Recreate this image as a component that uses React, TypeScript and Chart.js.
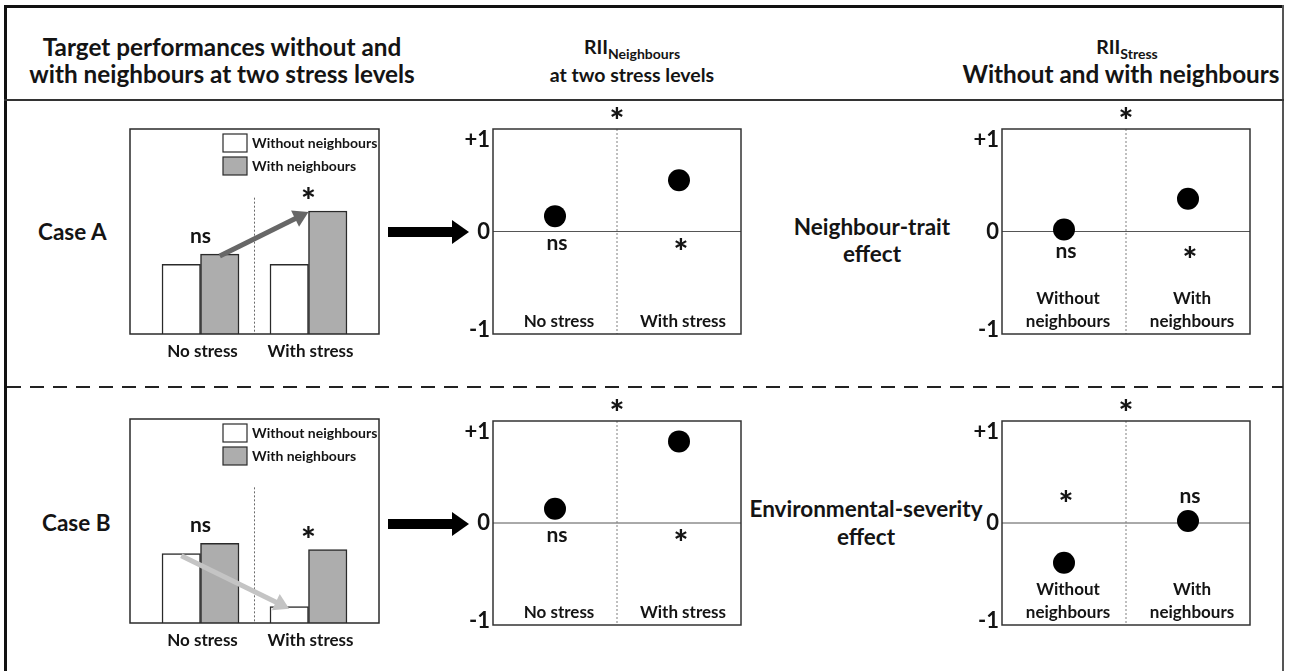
import React, { useEffect, useRef } from 'react';
import { Chart, registerables } from 'chart.js';

Chart.register(...registerables);

const FONT = 'Lato, "Open Sans", "DejaVu Sans", sans-serif';
const INK = '#141414';

// ---------------- data ----------------
const stressLevels = ['No stress', 'With stress'];
const neighbourLevels = [['Without', 'neighbours'], ['With', 'neighbours']];
const performanceSeries = ['Without neighbours', 'With neighbours'];

const caseAWithout = [34, 34];
const caseAWith = [39, 60];
const caseASig = ['ns', '*'];

const caseBWithout = [34, 8];
const caseBWith = [39, 36];
const caseBSig = ['ns', '*'];

const caseARiiNeighbours = [0.15, 0.5];
const caseARiiNeighboursSig = ['ns', '*'];
const caseARiiStress = [0.02, 0.32];
const caseARiiStressSig = ['ns', '*'];

const caseBRiiNeighbours = [0.14, 0.8];
const caseBRiiNeighboursSig = ['ns', '*'];
const caseBRiiStress = [-0.39, 0.02];
const caseBRiiStressSig = ['*', 'ns'];

const betweenLevelSig = '*';
const riiTicks = [1, 0, -1];
const riiTickLabels = ['+1', '0', '-1'];

// ---------------- helpers ----------------
function drawArrow(ctx: CanvasRenderingContext2D, x1: number, y1: number, x2: number, y2: number, color: string, w: number, head: number) {
  const ang = Math.atan2(y2 - y1, x2 - x1);
  const hx = x2 - head * Math.cos(ang);
  const hy = y2 - head * Math.sin(ang);
  ctx.save();
  ctx.strokeStyle = color;
  ctx.fillStyle = color;
  ctx.lineWidth = w;
  ctx.lineCap = 'butt';
  ctx.beginPath();
  ctx.moveTo(x1, y1);
  ctx.lineTo(hx + Math.cos(ang), hy + Math.sin(ang));
  ctx.stroke();
  const hw = head * 0.6;
  ctx.beginPath();
  ctx.moveTo(x2, y2);
  ctx.lineTo(hx - hw * Math.sin(ang), hy + hw * Math.cos(ang));
  ctx.lineTo(hx + hw * Math.sin(ang), hy - hw * Math.cos(ang));
  ctx.closePath();
  ctx.fill();
  ctx.restore();
}

function sigText(ctx: CanvasRenderingContext2D, t: string, x: number, y: number) {
  ctx.save();
  ctx.fillStyle = INK;
  ctx.textAlign = 'center';
  ctx.textBaseline = 'middle';
  if (t === '*') {
    ctx.font = `900 35px ${FONT}`;
    ctx.fillText(t, x, y + 9);
  } else {
    ctx.font = `700 21px ${FONT}`;
    ctx.fillText(t, x, y);
  }
  ctx.restore();
}

type Frame = { x: number; y: number; w: number; h: number };

// ---------------- bar panel ----------------
type BarProps = {
  frame: Frame;
  without: number[];
  withN: number[];
  sig: string[];
  arrowFrom: [number, number, 'center' | 'left'];
  arrowTo: [number, number, 'center' | 'left'];
  arrowColor: string;
};

function BarPanel({ frame, without, withN, sig, arrowFrom, arrowTo, arrowColor }: BarProps) {
  const ref = useRef<HTMLCanvasElement>(null);
  const pad = { left: 10, right: 10, top: 10, bottom: 36 };
  useEffect(() => {
    if (!ref.current) return;
    const anchor = (chart: any, spec: [number, number, 'center' | 'left']) => {
      const el = chart.getDatasetMeta(spec[0]).data[spec[1]] as any;
      const x = spec[2] === 'left' ? el.x - el.width / 2 : el.x;
      return [x, el.y + (spec[2] === 'center' ? 2 : 1)];
    };
    const plugin = {
      id: 'barPanel',
      beforeDatasetsDraw(chart: any) {
        const { ctx, chartArea: a, scales } = chart;
        const dx = scales.x.getPixelForValue(1);
        ctx.save();
        ctx.strokeStyle = '#6a6a6a';
        ctx.lineWidth = 1;
        ctx.setLineDash([2, 2]);
        ctx.beginPath();
        ctx.moveTo(dx, a.top + a.height * 0.335);
        ctx.lineTo(dx, a.bottom);
        ctx.stroke();
        ctx.restore();
      },
      afterDatasetsDraw(chart: any) {
        const { ctx, chartArea: a, scales } = chart;
        // frame
        ctx.save();
        ctx.strokeStyle = '#2a2a2a';
        ctx.lineWidth = 1.5;
        ctx.strokeRect(a.left, a.top, a.right - a.left, a.bottom - a.top);
        ctx.restore();
        // legend
        const ds = chart.data.datasets;
        ctx.save();
        const bx = a.right - 156;
        ds.forEach((d: any, i: number) => {
          const by = a.top + 5 + i * 23;
          ctx.fillStyle = d.backgroundColor;
          ctx.fillRect(bx, by, 24, 18);
          ctx.strokeStyle = '#2a2a2a';
          ctx.lineWidth = 1.2;
          ctx.strokeRect(bx, by, 24, 18);
          ctx.fillStyle = INK;
          ctx.font = `700 14px ${FONT}`;
          ctx.textAlign = 'left';
          ctx.textBaseline = 'middle';
          ctx.fillText(d.label, bx + 29, by + 9.5);
        });
        ctx.restore();
        // arrow
        const [x1, y1] = anchor(chart, arrowFrom);
        const [x2, y2] = anchor(chart, arrowTo);
        drawArrow(ctx, x1, y1, x2, y2, arrowColor, 5, 15);
        // significance above groups
        sig.forEach((s, i) => {
          const top = Math.min(scales.y.getPixelForValue(without[i]), scales.y.getPixelForValue(withN[i]));
          sigText(ctx, s, scales.x.getPixelForValue(i + 0.5), top - 18);
        });
        // category labels
        ctx.save();
        ctx.fillStyle = INK;
        ctx.font = `700 17px ${FONT}`;
        ctx.textAlign = 'center';
        ctx.textBaseline = 'middle';
        stressLevels.forEach((l, i) => {
          ctx.fillText(l, scales.x.getPixelForValue(i + 0.5) + 2, a.bottom + 18);
        });
        ctx.restore();
      },
    };
    const chart = new Chart(ref.current, {
      type: 'bar',
      data: {
        datasets: [
          {
            label: performanceSeries[0],
            data: without.map((v, i) => ({ x: i + 0.5, y: v })),
            backgroundColor: '#ffffff',
            borderColor: '#2a2a2a',
            borderWidth: 1.5,
            borderSkipped: 'bottom',
            barThickness: 38.5,
          },
          {
            label: performanceSeries[1],
            data: withN.map((v, i) => ({ x: i + 0.5, y: v })),
            backgroundColor: '#adadad',
            borderColor: '#2a2a2a',
            borderWidth: 1.5,
            borderSkipped: 'bottom',
            barThickness: 38.5,
          },
        ],
      } as any,
      options: {
        responsive: false,
        animation: false,
        layout: { padding: pad },
        plugins: { legend: { display: false }, tooltip: { enabled: false } },
        scales: {
          x: { type: 'linear', display: false, min: -0.153, max: 2.153, offset: false, grid: { offset: false } },
          y: { type: 'linear', display: false, min: 0, max: 100 },
        },
      } as any,
      plugins: [plugin],
    });
    return () => chart.destroy();
  }, []);
  return (
    <canvas
      ref={ref}
      width={frame.w + pad.left + pad.right}
      height={frame.h + pad.top + pad.bottom}
      style={{ position: 'absolute', left: frame.x - pad.left, top: frame.y - pad.top, display: 'block' }}
    />
  );
}

// ---------------- RII panel ----------------
type RiiProps = {
  frame: Frame;
  values: number[];
  sig: string[];
  sigOffset: number;
  categories: string[][];
};

function RiiPanel({ frame, values, sig, sigOffset, categories }: RiiProps) {
  const ref = useRef<HTMLCanvasElement>(null);
  const pad = { left: 45, right: 12, top: 34, bottom: 12 };
  useEffect(() => {
    if (!ref.current) return;
    const plugin = {
      id: 'riiPanel',
      beforeDatasetsDraw(chart: any) {
        const { ctx, chartArea: a, scales } = chart;
        const zy = scales.y.getPixelForValue(0);
        const dx = scales.x.getPixelForValue(1);
        ctx.save();
        ctx.strokeStyle = '#555';
        ctx.lineWidth = 1;
        ctx.beginPath();
        ctx.moveTo(a.left, zy);
        ctx.lineTo(a.right, zy);
        ctx.stroke();
        ctx.strokeStyle = '#808080';
        ctx.setLineDash([2, 2]);
        ctx.beginPath();
        ctx.moveTo(dx, a.top);
        ctx.lineTo(dx, a.bottom);
        ctx.stroke();
        ctx.restore();
        // category labels
        ctx.save();
        ctx.fillStyle = INK;
        ctx.font = `700 17px ${FONT}`;
        ctx.textAlign = 'center';
        ctx.textBaseline = 'middle';
        categories.forEach((lines, i) => {
          const cx = scales.x.getPixelForValue(i + 0.5) + 4;
          lines.forEach((ln, j) => {
            ctx.fillText(ln, cx, a.bottom - 12 - (lines.length - 1 - j) * 23);
          });
        });
        ctx.restore();
      },
      afterDatasetsDraw(chart: any) {
        const { ctx, chartArea: a, scales } = chart;
        ctx.save();
        ctx.strokeStyle = '#333';
        ctx.lineWidth = 1.5;
        ctx.strokeRect(a.left, a.top, a.right - a.left, a.bottom - a.top);
        ctx.restore();
        // ticks
        ctx.save();
        ctx.fillStyle = INK;
        ctx.font = `700 22px ${FONT}`;
        ctx.textAlign = 'right';
        ctx.textBaseline = 'middle';
        riiTicks.forEach((t, i) => {
          const py = scales.y.getPixelForValue(t);
          const adj = t > 0 ? 11 : t < 0 ? -4 : 0;
          ctx.fillText(riiTickLabels[i], a.left - 3, py + adj);
        });
        ctx.restore();
        // between-level significance
        sigText(ctx, betweenLevelSig, scales.x.getPixelForValue(1), a.top - 16);
        // within-level significance
        const zy = scales.y.getPixelForValue(0);
        sig.forEach((s, i) => {
          sigText(ctx, s, scales.x.getPixelForValue(i + 0.5) + 2, zy + sigOffset);
        });
      },
    };
    const chart = new Chart(ref.current, {
      type: 'scatter',
      data: {
        datasets: [
          {
            data: values.map((v, i) => ({ x: i + 0.5, y: v })),
            backgroundColor: '#000',
            borderColor: '#000',
            pointRadius: 11,
            borderWidth: 0,
          },
        ],
      },
      options: {
        responsive: false,
        animation: false,
        layout: { padding: pad },
        plugins: { legend: { display: false }, tooltip: { enabled: false } },
        scales: {
          x: { type: 'linear', display: false, min: 0, max: 2 },
          y: { type: 'linear', display: false, min: -1, max: 1 },
        },
      } as any,
      plugins: [plugin],
    });
    return () => chart.destroy();
  }, []);
  return (
    <canvas
      ref={ref}
      width={frame.w + pad.left + pad.right}
      height={frame.h + pad.top + pad.bottom}
      style={{ position: 'absolute', left: frame.x - pad.left, top: frame.y - pad.top, display: 'block' }}
    />
  );
}

// ---------------- page pieces ----------------
const txt: React.CSSProperties = {
  position: 'absolute',
  fontFamily: FONT,
  fontWeight: 700,
  color: INK,
  whiteSpace: 'nowrap',
};

function Centered({ cx, top, size, lh, children }: { cx: number; top: number; size: number; lh: number; children: React.ReactNode }) {
  return (
    <div style={{ ...txt, left: cx - 300, width: 600, top, fontSize: size, lineHeight: `${lh}px`, textAlign: 'center' }}>
      {children}
    </div>
  );
}

function BigArrow({ x, y }: { x: number; y: number }) {
  return (
    <div style={{ position: 'absolute', left: x, top: y - 12 }}>
      <div style={{ position: 'absolute', left: 0, top: 7, width: 66, height: 10, background: '#000' }} />
      <div
        style={{
          position: 'absolute',
          left: 64,
          top: 0,
          width: 0,
          height: 0,
          borderTop: '12px solid transparent',
          borderBottom: '12px solid transparent',
          borderLeft: '17px solid #000',
        }}
      />
    </div>
  );
}

export default function App() {
  const barFrameA = { x: 130, y: 129, w: 249, h: 205 };
  const barFrameB = { x: 130, y: 419, w: 249, h: 204 };
  const H = 24.3;
  const M = 19.5;
  return (
    <div style={{ position: 'absolute', left: 0, top: 0, width: 1289, height: 671, overflow: 'hidden', background: '#fff' }}>
      {/* frame lines */}
      <div style={{ position: 'absolute', left: 4, top: 5, width: 3, height: 700, background: '#111' }} />
      <div style={{ position: 'absolute', left: 4, top: 5, width: 1280, height: 3, background: '#111' }} />
      <div style={{ position: 'absolute', left: 1282, top: 5, width: 2, height: 700, background: '#555' }} />
      <div style={{ position: 'absolute', left: 4, top: 99, width: 1280, height: 2, background: '#333' }} />
      <div
        style={{
          position: 'absolute',
          left: 7,
          top: 386,
          width: 1276,
          height: 2,
          background: 'repeating-linear-gradient(to right, #222 0 14px, transparent 14px 23px)',
        }}
      />

      {/* headers */}
      <Centered cx={222} top={33} size={H} lh={27}>
        Target performances without and
        <br />
        with neighbours at two stress levels
      </Centered>
      <Centered cx={632} top={34} size={M} lh={26}>
        RII<span style={{ fontSize: 14, position: 'relative', top: 5 }}>Neighbours</span>
        <br />
        at two stress levels
      </Centered>
      <Centered cx={1127} top={34} size={M} lh={26}>
        RII<span style={{ fontSize: 14, position: 'relative', top: 5 }}>Stress</span>
      </Centered>
      <Centered cx={1121} top={60} size={H} lh={27}>
        Without and with neighbours
      </Centered>

      {/* row labels */}
      <div style={{ ...txt, left: 38, top: 218, fontSize: 22.5, lineHeight: '28px' }}>Case A</div>
      <div style={{ ...txt, left: 42, top: 509, fontSize: 22.5, lineHeight: '28px' }}>Case B</div>

      <Centered cx={872} top={213} size={22.5} lh={27}>
        Neighbour-trait
        <br />
        effect
      </Centered>
      <Centered cx={866} top={495} size={22.5} lh={28}>
        Environmental-severity
        <br />
        effect
      </Centered>

      <BigArrow x={388} y={232} />
      <BigArrow x={388} y={524} />

      <BarPanel
        frame={barFrameA}
        without={caseAWithout}
        withN={caseAWith}
        sig={caseASig}
        arrowFrom={[1, 0, 'center']}
        arrowTo={[1, 1, 'left']}
        arrowColor="#676767"
      />
      <BarPanel
        frame={barFrameB}
        without={caseBWithout}
        withN={caseBWith}
        sig={caseBSig}
        arrowFrom={[0, 0, 'center']}
        arrowTo={[0, 1, 'center']}
        arrowColor="#c4c4c4"
      />

      <RiiPanel
        frame={{ x: 493, y: 129, w: 248, h: 205 }}
        values={caseARiiNeighbours}
        sig={caseARiiNeighboursSig}
        sigOffset={12}
        categories={stressLevels.map((s) => [s])}
      />
      <RiiPanel
        frame={{ x: 1002, y: 129, w: 248, h: 205 }}
        values={caseARiiStress}
        sig={caseARiiStressSig}
        sigOffset={20}
        categories={neighbourLevels}
      />
      <RiiPanel
        frame={{ x: 493, y: 421, w: 248, h: 204 }}
        values={caseBRiiNeighbours}
        sig={caseBRiiNeighboursSig}
        sigOffset={12}
        categories={stressLevels.map((s) => [s])}
      />
      <RiiPanel
        frame={{ x: 1002, y: 421, w: 248, h: 204 }}
        values={caseBRiiStress}
        sig={caseBRiiStressSig}
        sigOffset={-27}
        categories={neighbourLevels}
      />
    </div>
  );
}
